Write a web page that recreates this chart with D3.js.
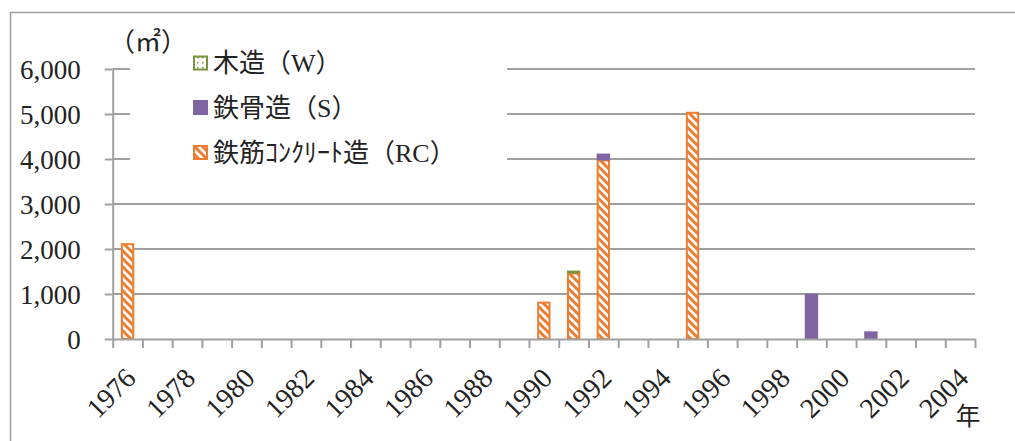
<!DOCTYPE html>
<html>
<head>
<meta charset="utf-8">
<script src="https://cdn.jsdelivr.net/npm/d3@7/dist/d3.min.js"></script>
<style>
  html, body { margin: 0; padding: 0; background: #fff; }
  svg { display: block; }
  text { font-family: "Liberation Serif", "Noto Sans CJK JP", serif; fill: #222; }
</style>
</head>
<body>
<svg id="chart" width="1015" height="441"></svg>
<script>
// categories (year) and floor area per structure type (m2)
const years = [1976, 1977, 1978, 1979, 1980, 1981, 1982, 1983, 1984, 1985,
  1986, 1987, 1988, 1989, 1990, 1991, 1992, 1993, 1994, 1995,
  1996, 1997, 1998, 1999, 2000, 2001, 2002, 2003, 2004];
const rcValues = [2130, 0, 0, 0, 0, 0, 0, 0, 0, 0, 0, 0, 0, 0, 830, 1480, 3990, 0, 0, 5050,
  0, 0, 0, 0, 0, 0, 0, 0, 0];
const sValues = [0, 0, 0, 0, 0, 0, 0, 0, 0, 0, 0, 0, 0, 0, 0, 0, 130, 0, 0, 0,
  0, 0, 0, 1010, 0, 170, 0, 0, 0];
const wValues = [0, 0, 0, 0, 0, 0, 0, 0, 0, 0, 0, 0, 0, 0, 0, 40, 0, 0, 0, 0,
  0, 0, 0, 0, 0, 0, 0, 0, 0];
const yTicks = [0, 1000, 2000, 3000, 4000, 5000, 6000];
const seriesNames = ['木造（W）', '鉄骨造（S）', '鉄筋ｺﾝｸﾘｰﾄ造（RC）'];

const svg = d3.select('#chart');
const plotLeft = 112.7, plotRight = 975, plotTop = 69, plotBottom = 339;
const gray = '#a0a0a0';
const orange = '#ed7d31', purple = '#8064a2', green = '#77933c';
const serif = '"Liberation Serif", "Noto Sans CJK JP", serif';

// patterns
const defs = svg.append('defs');
const hatch = defs.append('pattern')
  .attr('id', 'hatch-rc')
  .attr('patternUnits', 'userSpaceOnUse')
  .attr('width', 8).attr('height', 8);
hatch.append('rect').attr('width', 8).attr('height', 8).attr('fill', '#fff');
hatch.append('path')
  .attr('d', 'M-2,-2 L10,10 M-2,6 L2,10 M6,-2 L10,2')
  .attr('stroke', orange).attr('stroke-width', 3);

const dots = defs.append('pattern')
  .attr('id', 'dots-w')
  .attr('patternUnits', 'userSpaceOnUse')
  .attr('width', 5).attr('height', 5);
dots.append('rect').attr('width', 5).attr('height', 5).attr('fill', '#fff');
dots.append('rect').attr('x', 2).attr('y', 2).attr('width', 1.5).attr('height', 1.5).attr('fill', green);

// outer frame
svg.append('rect')
  .attr('x', 10.5).attr('y', 12.5)
  .attr('width', 1030).attr('height', 460)
  .attr('fill', 'none').attr('stroke', gray).attr('stroke-width', 1.5);

// scales
const x = d3.scaleBand()
  .domain(years)
  .range([plotLeft, plotRight])
  .paddingInner(0.55)
  .paddingOuter(0.275);
const xb = d3.scaleLinear().domain([0, years.length]).range([plotLeft, plotRight]);
const y = d3.scaleLinear().domain([0, 6000]).range([plotBottom, plotTop]);

// gridlines
svg.append('g')
  .selectAll('line')
  .data(yTicks.filter(d => d > 0))
  .join('line')
  .attr('x1', plotLeft).attr('x2', plotRight)
  .attr('y1', d => y(d)).attr('y2', d => y(d))
  .attr('stroke', gray).attr('stroke-width', 2);

// y axis
const yAxis = svg.append('g')
  .attr('transform', `translate(${plotLeft},0)`)
  .call(d3.axisLeft(y).tickValues(yTicks).tickFormat(d3.format(',')).tickSize(8).tickSizeOuter(0))
  .attr('font-family', serif);
yAxis.select('.domain').attr('stroke', gray).attr('stroke-width', 2);
yAxis.selectAll('.tick line').attr('stroke', gray).attr('stroke-width', 2);
yAxis.selectAll('.tick text')
  .attr('x', -32)
  .attr('dy', '0.34em')
  .style('font-size', '27px')
  .style('font-family', serif)
  .attr('fill', '#222');

// stacked bars: RC bottom, then S, then W
const table = years.map((yr, i) => ({ year: yr, rc: rcValues[i], s: sValues[i], w: wValues[i] }));
const stack = d3.stack().keys(['rc', 's', 'w'])(table);
const fills = { rc: 'url(#hatch-rc)', s: purple, w: 'url(#dots-w)' };
const strokes = { rc: orange, s: purple, w: green };

const barsGroup = svg.append('g');
stack.forEach(layer => {
  barsGroup.append('g')
    .selectAll('rect')
    .data(layer.filter(d => d[1] - d[0] > 0))
    .join('rect')
    .attr('x', d => x(d.data.year) + 1)
    .attr('width', x.bandwidth() - 2)
    .attr('y', d => y(d[1]) + 1)
    .attr('height', d => Math.max(0.5, y(d[0]) - y(d[1]) - 1))
    .attr('fill', fills[layer.key])
    .attr('stroke', strokes[layer.key])
    .attr('stroke-width', 2);
});

// x axis
const xAxis = svg.append('g')
  .attr('transform', `translate(0,${plotBottom})`)
  .call(d3.axisBottom(xb).tickValues(d3.range(years.length + 1)).tickFormat('').tickSize(9).tickSizeOuter(0));
xAxis.select('.domain').attr('stroke', gray).attr('stroke-width', 2);
xAxis.selectAll('.tick line').attr('stroke', gray).attr('stroke-width', 2);

svg.append('g')
  .selectAll('text')
  .data(years.filter((d, i) => i % 2 === 0))
  .join('text')
  .attr('transform', d => `translate(${x(d) + x.bandwidth() / 2 + 3},${plotBottom + 34}) rotate(-45)`)
  .attr('text-anchor', 'end')
  .attr('dy', '0.35em')
  .style('font-size', '28px')
  .style('font-family', serif)
  .text(d => d);

svg.append('text')
  .attr('x', 968).attr('y', 425)
  .attr('text-anchor', 'middle')
  .style('font-size', '25px')
  .text('年');

// legend with white background
const legend = svg.append('g');
legend.append('rect')
  .attr('x', 130).attr('y', 45).attr('width', 377).attr('height', 135)
  .attr('fill', '#fff');
const legendRows = [
  { name: seriesNames[0], fill: 'url(#dots-w)', stroke: green },
  { name: seriesNames[1], fill: purple, stroke: purple },
  { name: seriesNames[2], fill: 'url(#hatch-rc)', stroke: orange }
];
const rowY = [63, 107.5, 152.5];
legendRows.forEach((r, i) => {
  legend.append('rect')
    .attr('x', 194).attr('y', rowY[i] - 6.5)
    .attr('width', 13).attr('height', 13)
    .attr('fill', r.fill).attr('stroke', r.stroke).attr('stroke-width', 2);
  legend.append('text')
    .attr('x', 213).attr('y', rowY[i])
    .attr('dy', '0.36em')
    .style('font-size', '26px')
    .style('font-family', serif)
    .text(r.name);
});

// unit label
svg.append('text')
  .attr('x', 148).attr('y', 42)
  .attr('text-anchor', 'middle')
  .attr('dy', '0.36em')
  .style('font-size', '26px')
  .style('font-family', serif)
  .text('（㎡）');
</script>
</body>
</html>
